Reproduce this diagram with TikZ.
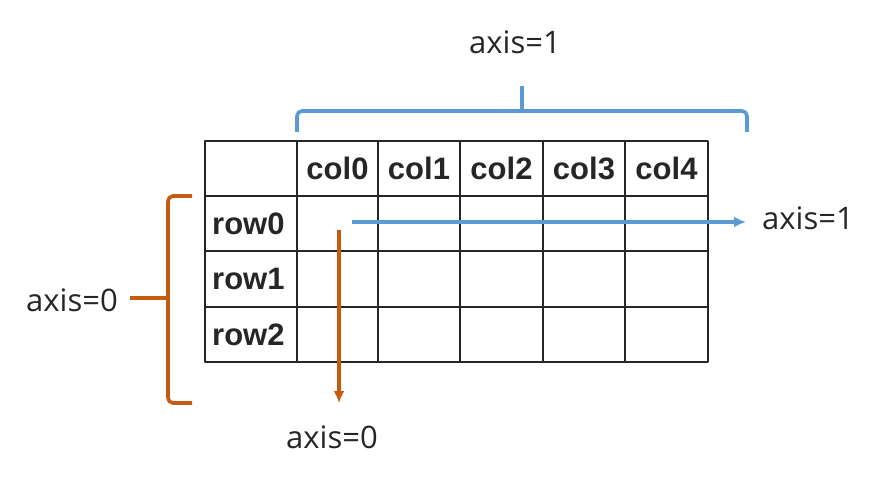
\documentclass[tikz,border=0pt]{standalone}
\usepackage{fontspec}
\setmainfont{Open Sans}
\newfontfamily\tabfont{Liberation Sans}
\usetikzlibrary{arrows.meta}

\definecolor{axisblue}{HTML}{5B9BD5}
\definecolor{axisorange}{HTML}{C55A11}

\begin{document}
\begin{tikzpicture}[x=1pt,y=-1pt,>={Latex[length=12pt,width=11pt]},line join=round]
  \tikzstyle{every node}=[inner sep=0pt]
  \tikzstyle{head}=[font=\tabfont\bfseries\fontsize{31}{31}\selectfont,text=black!85]
  \tikzstyle{lab}=[font=\fontsize{31}{31}\selectfont,text=black!85]
  \tikzstyle{grid}=[line width=2.8pt,black!85]
  \tikzstyle{brace}=[line width=3.6pt,rounded corners=5pt]
  \useasboundingbox (0,0) rectangle (878,478);

  % table
  \draw[grid] (205,141) rectangle (708,362);
  \foreach \x in {297,378,460,543,625} \draw[grid] (\x,141) -- (\x,362);
  \foreach \y in {196,251,307} \draw[grid] (205,\y) -- (708,\y);

  \foreach \i/\x in {0/337.5,1/419,2/501.5,3/584,4/666.5}
    \node[head] (col\i) at (\x,168.5) {col\i};
  \foreach \i/\y in {0/223.5,1/279,2/334.5}
    \node[head,anchor=west] (row\i) at (212,\y) {row\i};

  % axis=1 brace
  \node[lab] (ax1top) at (515,42) {axis=1};
  \coordinate (b1tip) at (522,86);
  \draw[axisblue,brace] (297,132) -- (297,111) -- (747,111) -- (747,132);
  \draw[axisblue,line width=3.6pt] (522,111) -- (b1tip);

  % axis=0 bracket
  \node[lab] (ax0left) at (72,300) {axis=0};
  \coordinate (b0tip) at (130,298);
  \draw[axisorange,brace] (192,196) -- (168,196) -- (168,403) -- (192,403);
  \draw[axisorange,line width=3.6pt] (168,298) -- (b0tip);

  % arrows
  \node[lab,anchor=west] (ax1right) at (762,218) {axis=1};
  \node[lab] (ax0bot) at (332,437) {axis=0};
  \coordinate (hstart) at (352,222);
  \coordinate (hend) at (746,222);
  \coordinate (vstart) at (339,230);
  \coordinate (vend) at (339,403);
  \draw[->,axisblue,line width=3.4pt] (hstart) -- (hend);
  \draw[->,axisorange,line width=3.4pt] (vstart) -- (vend);
\end{tikzpicture}
\end{document}
